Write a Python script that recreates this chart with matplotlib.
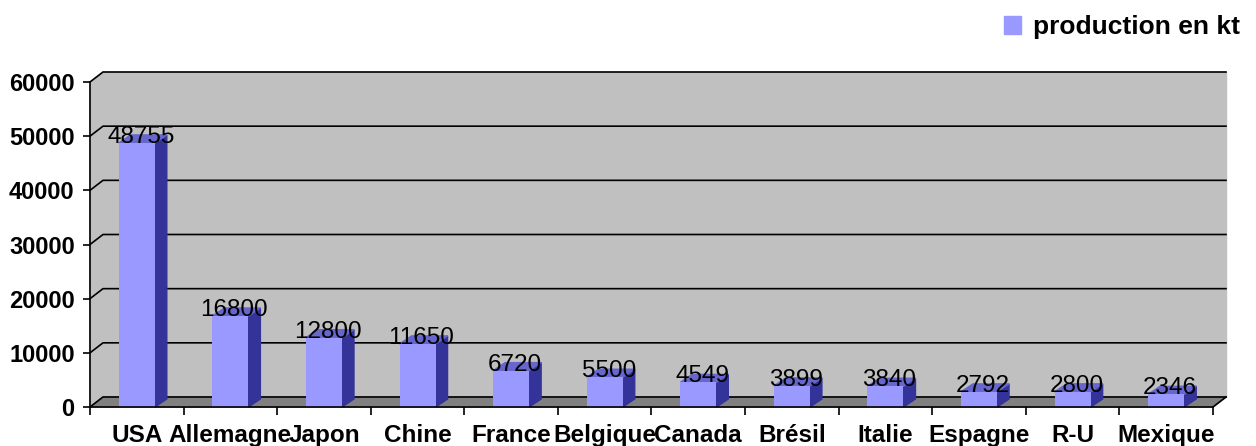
import matplotlib
matplotlib.use("Agg")
import matplotlib.pyplot as plt
from matplotlib.patches import Patch

# données
pays = ["USA", "Allemagne", "Japon", "Chine", "France", "Belgique",
        "Canada", "Brésil", "Italie", "Espagne", "R-U", "Mexique"]
production = [48755, 16800, 12800, 11650, 6720, 5500,
              4549, 3899, 3840, 2792, 2800, 2346]
yticks = [0, 10000, 20000, 30000, 40000, 50000, 60000]
serie = "production en kt"

# couleurs style Excel 3D
c_front = "#9999FF"
c_side = "#333399"
c_top = "#6666CC"
c_wall = "#C0C0C0"
c_floor = "#808080"

plt.rcParams['font.family'] = ['Liberation Sans', 'DejaVu Sans']

W, H = 1256, 446
fig = plt.figure(figsize=(W / 100, H / 100), dpi=100)
fig.patch.set_facecolor("white")
ax = fig.add_axes([90 / W, (H - 407) / H, (1213 - 90) / W, (407 - 82) / H])
ax.set_xlim(-0.5, len(pays) - 0.5)
ax.set_ylim(0, 60000)
ax.patch.set_visible(False)

# profondeur 3D : pixels -> unités de données
p0 = ax.transData.transform((0, 0))
p1 = ax.transData.transform((1, 10000))
ux = p1[0] - p0[0]
uy = (p1[1] - p0[1]) / 10000
wdx, wdy = 13 / ux, 10 / uy   # murs
bdx, bdy = 12 / ux, 8 / uy    # barres

x0, x1 = -0.5, len(pays) - 0.5
ymax = yticks[-1]
lw = 1.2

# mur du fond + mur gauche
ax.fill([x0 + wdx, x1 + wdx, x1 + wdx, x0 + wdx],
        [wdy, wdy, ymax + wdy, ymax + wdy], color=c_wall, zorder=0, clip_on=False)
ax.fill([x0, x0 + wdx, x0 + wdx, x0], [0, wdy, ymax + wdy, ymax],
        color=c_wall, zorder=0, clip_on=False)
# sol
ax.fill([x0, x1, x1 + wdx, x0 + wdx], [0, 0, wdy, wdy],
        color=c_floor, zorder=0.5, clip_on=False)
ax.plot([x1, x1 + wdx], [0, wdy], color="black", lw=lw, zorder=1, clip_on=False)

# quadrillage
for v in yticks:
    ax.plot([x0, x0 + wdx, x1 + wdx], [v, v + wdy, v + wdy],
            color="black", lw=lw, zorder=1, clip_on=False)

# barres
w = 0.385
xs = list(range(len(pays)))
ax.bar(xs, production, width=w, color=c_front, zorder=3, clip_on=False)
for x, v in zip(xs, production):
    r, l = x + w / 2, x - w / 2
    ax.fill([r, r + bdx, r + bdx, r], [0, bdy, v + bdy, v],
            color=c_side, zorder=2.9, clip_on=False)
    ax.fill([l, r, r + bdx, l + bdx], [v, v, v + bdy, v + bdy],
            color=c_top, zorder=2.9, clip_on=False)
    ax.text(x + 4 / ux, v, str(v), ha="center", va="baseline",
            fontsize=17.5, color="black", zorder=5, clip_on=False)

# axes
for s in ["top", "right"]:
    ax.spines[s].set_visible(False)
for s in ["left", "bottom"]:
    ax.spines[s].set_linewidth(lw)
    ax.spines[s].set_zorder(4)
ax.set_yticks(yticks)
ax.set_yticklabels([str(v) for v in yticks], fontsize=17, fontweight="bold")
ax.tick_params(axis="y", length=5, width=lw, pad=6)
ax.set_xticks(xs)
ax.set_xticklabels(pays, fontsize=17.5, fontweight="bold")
ax.set_xticks([x0 + k for k in range(len(pays) + 1)], minor=True)
ax.tick_params(axis="x", which="major", length=0, pad=12)
ax.tick_params(axis="x", which="minor", length=6, width=lw)

# légende
fig.legend(handles=[Patch(color=c_front, label=serie)], loc="upper right",
           bbox_to_anchor=(1240 / W, 1 - 15 / H), frameon=False,
           borderaxespad=0, borderpad=0,
           handlelength=0.65, handleheight=0.65, handletextpad=0.45,
           prop={"weight": "bold", "size": 19})

fig.savefig("out.png", dpi=100)
